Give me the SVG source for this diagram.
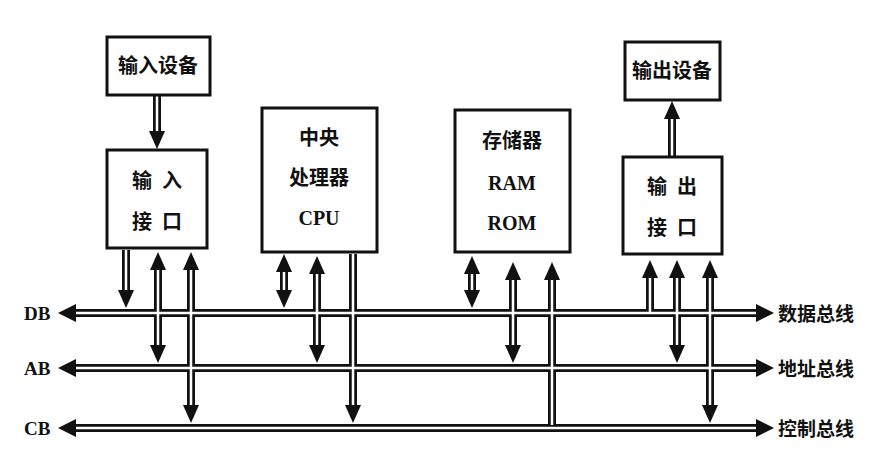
<svg xmlns="http://www.w3.org/2000/svg" xmlns:xlink="http://www.w3.org/1999/xlink" width="889" height="466" viewBox="0 0 889 466">
<style>
.box{fill:#fff;stroke:#111;stroke-width:3}
.t{font-family:"Liberation Serif","Noto Sans CJK SC",serif;font-weight:bold;font-size:20px;fill:#111;text-anchor:middle}
.lb{font-family:"Liberation Serif","Noto Sans CJK SC",serif;font-weight:bold;font-size:19px;fill:#111}
.o{stroke:#111;stroke-width:8;fill:none}
.i{stroke:#fff;stroke-width:2.5;fill:none}
.ah{fill:#111}
</style>
<defs>
<path id="dn" d="M0,0 L-8,-18 L8,-18Z"/>
<path id="up" d="M0,0 L-8,18 L8,18Z"/>
<path id="lf" d="M0,0 L18,-9 L18,9Z"/>
<path id="rt" d="M0,0 L-18,-9 L-18,9Z"/>
</defs>
<rect width="889" height="466" fill="#fff"/>
<g id="connectors">
<g class="o">
<path d="M74,313H758M74,368H758M74,428H758"/>
<path d="M126,250V292M158,268V347M191,268V407M284,270V292M317,272V347M353,254V407M472,272V292M513,278V347M552,428V278M650,313V276M677,276V347M710,276V407M157,95V132M672,157V118"/>
</g>
<g class="i">
<path d="M74,313H758M74,368H758M74,428H758"/>
<path d="M126,250V300M158,260V355M191,260V415M284,262V300M317,264V355M353,254V415M472,264V300M513,270V355M552,425V270M650,313V268M677,268V355M710,268V415M157,95V140M672,157V110"/>
</g>
<g class="ah">
<use href="#lf" x="58" y="313"/><use href="#lf" x="58" y="368"/><use href="#lf" x="58" y="428"/>
<use href="#rt" x="774" y="313"/><use href="#rt" x="774" y="368"/><use href="#rt" x="774" y="428"/>
<use href="#dn" x="126" y="308"/>
<use href="#up" x="158" y="252"/><use href="#dn" x="158" y="363"/>
<use href="#up" x="191" y="252"/><use href="#dn" x="191" y="423"/>
<use href="#up" x="284" y="254"/><use href="#dn" x="284" y="308"/>
<use href="#up" x="317" y="256"/><use href="#dn" x="317" y="363"/>
<use href="#dn" x="353" y="423"/>
<use href="#up" x="472" y="256"/><use href="#dn" x="472" y="308"/>
<use href="#up" x="513" y="262"/><use href="#dn" x="513" y="363"/>
<use href="#up" x="552" y="262"/>
<use href="#up" x="650" y="260"/>
<use href="#up" x="677" y="260"/><use href="#dn" x="677" y="363"/>
<use href="#up" x="710" y="260"/><use href="#dn" x="710" y="423"/>
<use href="#dn" x="157" y="149"/>
<use href="#up" x="672" y="101"/>
</g>
</g>
<g id="in-dev"><rect class="box" x="107" y="37" width="103" height="58"/><text class="t" x="158" y="73">输入设备</text></g>
<g id="in-if"><rect class="box" x="107" y="150" width="100" height="98"/><text class="t" x="157" y="188" xml:space="preserve">输  入</text><text class="t" x="157" y="229" xml:space="preserve">接  口</text></g>
<g id="cpu"><rect class="box" x="262" y="108" width="115" height="144"/><text class="t" x="319" y="145">中央</text><text class="t" x="319" y="185">处理器</text><text class="t" x="319" y="225">CPU</text></g>
<g id="mem"><rect class="box" x="455" y="110" width="115" height="142"/><text class="t" x="512" y="148">存储器</text><text class="t" x="512" y="190">RAM</text><text class="t" x="512" y="230">ROM</text></g>
<g id="out-dev"><rect class="box" x="625" y="42" width="95" height="58"/><text class="t" x="672" y="78">输出设备</text></g>
<g id="out-if"><rect class="box" x="623" y="157" width="99" height="97"/><text class="t" x="672" y="194" xml:space="preserve">输  出</text><text class="t" x="672" y="235" xml:space="preserve">接  口</text></g>
<g id="labels">
<text class="lb" x="24" y="320">DB</text><text class="lb" x="24" y="375">AB</text><text class="lb" x="24" y="435">CB</text>
<text class="lb" x="778" y="321">数据总线</text><text class="lb" x="778" y="376">地址总线</text><text class="lb" x="778" y="436">控制总线</text>
</g>
</svg>
